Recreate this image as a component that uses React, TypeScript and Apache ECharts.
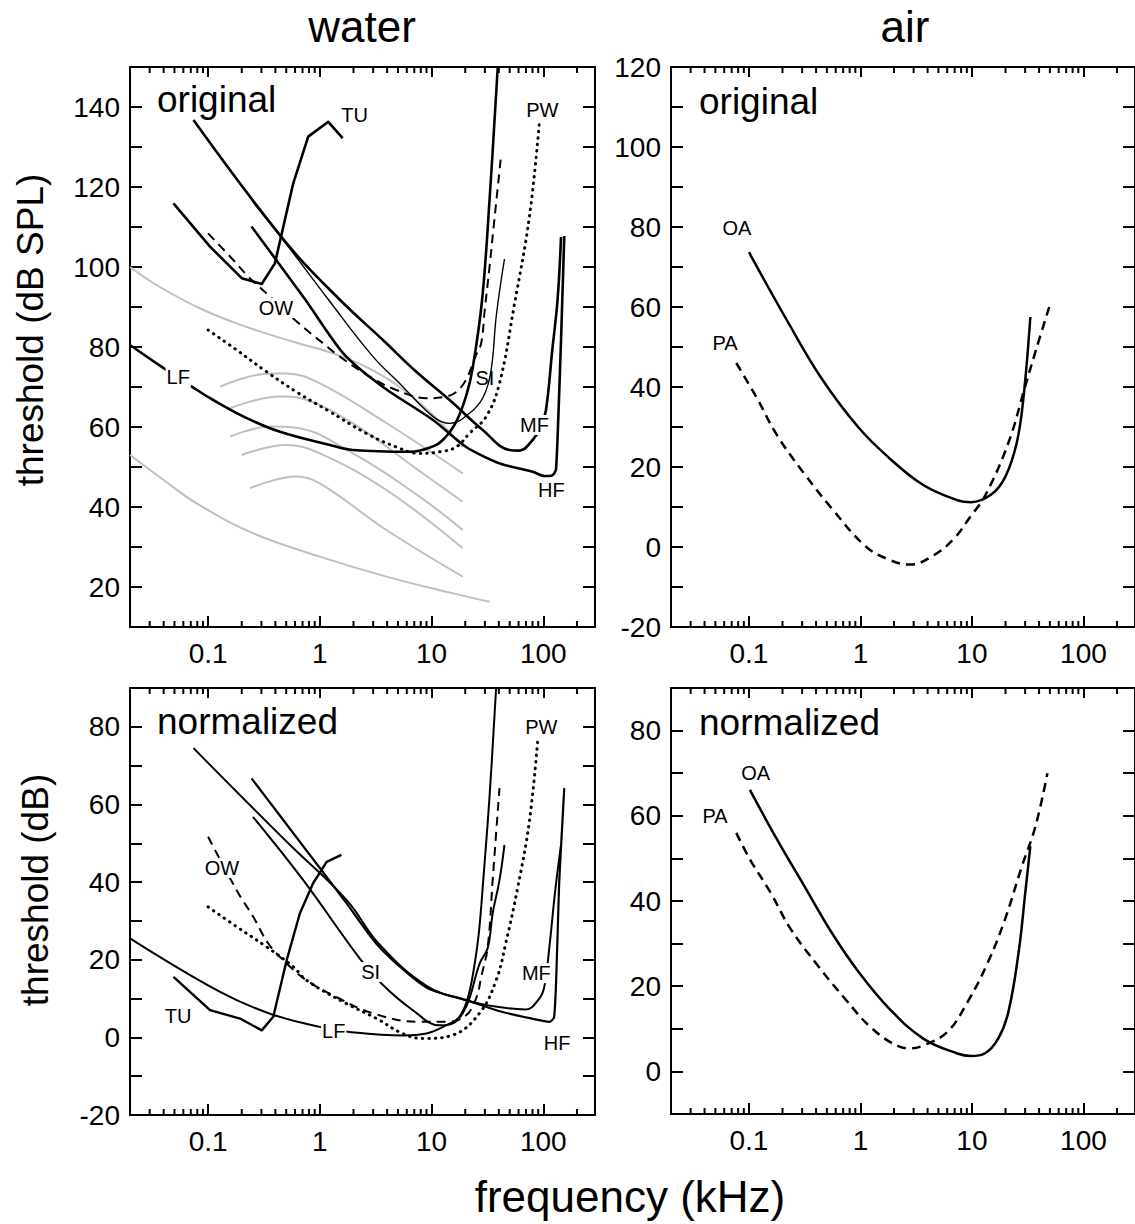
import React, { useEffect, useRef } from 'react';
import * as echarts from 'echarts';

const FONT = '"Liberation Sans", Arial, Helvetica, sans-serif';

// ---------- axis ticks ----------
const majorTicks = [0.1, 1, 10, 100];
const minorTicks = [0.03, 0.04, 0.05, 0.06, 0.07, 0.08, 0.09, 0.2, 0.3, 0.4, 0.5, 0.6, 0.7, 0.8, 0.9,
  2, 3, 4, 5, 6, 7, 8, 9, 20, 30, 40, 50, 60, 70, 80, 90, 200];

// ---------- water, original (dB SPL) : [kHz, dB] ----------
const tuOrig = [[0.049, 115.9], [0.104, 105.1], [0.2, 97.2], [0.302, 95.75], [0.396, 100.9], [0.578, 120.9], [0.787, 132.6], [1.19, 136.3], [1.6, 132.2]];
const owOrig = [[0.1, 108.4], [0.168, 101.75], [0.229, 97.6], [0.334, 93.4], [0.598, 86.75], [1.07, 80.9], [1.51, 77.6], [2.79, 72.6], [4.84, 69.25], [8.98, 67.2], [13.5, 67.6], [19, 70.5], [25, 78], [27.8, 81], [29.9, 89.25], [33, 100], [35.6, 109], [41.9, 128]];
const pwOrig = [[0.1, 84.25], [0.18, 79.25], [0.334, 73.8], [0.64, 68.5], [1.2, 64], [2.61, 58.4], [4.84, 55], [7.8, 53.4], [11.8, 53.8], [16.6, 55], [21.8, 58.4], [30.8, 62.6], [40.5, 70.9], [55, 90.5], [75, 112.5], [92, 135.8]];
const siOrig = [[0.252, 116.25], [0.505, 105.6], [1.2, 91.75], [2.99, 77.6], [5.18, 70.9], [10.3, 62.6], [14.5, 60.9], [22, 63.5], [29, 67.5], [34, 74], [38, 88], [44.9, 102]];
const mfOrig = [[0.074, 136.75], [0.505, 105.9], [1.52, 91.75], [3.67, 81.75], [7.3, 73.8], [14.5, 66.75], [28.7, 59.25], [49.7, 54.25], [61, 54.1], [80.2, 56.75], [95, 60], [105.6, 64.25], [120, 79], [134, 91.75], [144, 107.5]];
const hfOrig = [[0.245, 110.1], [0.745, 91.75], [1.62, 78.4], [3.67, 70], [10.3, 61.75], [20.4, 55], [40.5, 50.9], [80.2, 48.8], [102, 47.75], [118, 47.8], [125, 48.4], [130, 49.5], [136, 62], [144, 81.75], [149, 95], [154, 107.75]];
const lfOrig = [[0.02, 80.5], [0.04, 74.7], [0.0715, 70.1], [0.111, 66.75], [0.222, 62.2], [0.44, 58.8], [1.23, 55.5], [1.97, 54.25], [6.37, 53.8], [10.2, 55.1], [12.6, 56.75], [16.6, 61.3], [20.5, 68], [23.4, 75], [28.3, 91.75], [33, 116.75], [39.1, 150]];
// grey reference audiograms
const grey1 = [[0.02, 100], [0.037, 95], [0.091, 89.25], [0.222, 85], [0.578, 81.3], [1.31, 78.4], [2.61, 75], [5.18, 70], [10.3, 63], [19, 55]];
const grey2 = [[0.128, 70.1], [0.36, 73.4], [0.5, 73.4], [1, 70.9], [3.94, 61], [19, 48.4]];
const grey3 = [[0.157, 64.7], [0.44, 67.6], [0.76, 66.75], [1.98, 60.9], [7.8, 49], [19, 41.3]];
const grey4 = [[0.157, 57.6], [0.36, 60.1], [0.58, 59.9], [1.98, 53.4], [7.8, 42.6], [19, 34.25]];
const grey5 = [[0.2, 53], [0.5, 55.5], [1, 53.4], [3.94, 44.25], [19, 29.7]];
const grey6 = [[0.237, 44.7], [0.62, 47.6], [1, 45.9], [3.94, 34.25], [19, 22.6]];
const grey7 = [[0.02, 53], [0.04, 46.75], [0.079, 40.9], [0.254, 33.4], [1, 27.6], [3.94, 22.6], [15.5, 18.4], [33, 16.3]];

// ---------- air, original ----------
const oaOrig = [[0.1, 73.7], [0.221, 56.5], [0.447, 42.2], [0.966, 29.8], [1.82, 22.2], [3.66, 15.5], [7.4, 11.7], [9.8, 11.2], [14.9, 13.1], [19.8, 17.4], [25.2, 26], [29, 37.4], [33.4, 57.5]];
const paOrig = [[0.077, 46], [0.117, 37.4], [0.179, 27.9], [0.314, 18.3], [0.551, 9.7], [1.11, 0.2], [1.82, -3.2], [2.77, -4.4], [4.52, -2.1], [6.9, 2.1], [9.8, 7.8], [13, 12.6], [21.2, 26], [30.1, 40.3], [37.2, 48.9], [51, 61.3]];

// ---------- water, normalized (dB) ----------
const tuNorm = [[0.049, 15.6], [0.104, 7], [0.193, 4.85], [0.302, 1.8], [0.383, 5.3], [0.505, 19.9], [0.662, 31.9], [0.87, 39.7], [1.15, 45.2], [1.56, 47]];
const owNorm = [[0.1, 51.7], [0.18, 37.9], [0.254, 31], [0.345, 24.2], [0.47, 19.9], [0.76, 14.7], [1.4, 10.4], [2.98, 6.2], [7.8, 4], [13.5, 4], [20, 5.5], [25, 10], [28, 16], [31.8, 23.3], [35.2, 40.5], [40.5, 64.2]];
const pwNorm = [[0.1, 33.6], [0.18, 28.5], [0.334, 23.3], [0.578, 18.2], [0.76, 14.7], [1.73, 8.7], [3.2, 4.9], [5.5, 1], [8.4, -0.3], [15.5, 0.6], [26.8, 6.2], [37.8, 14.7], [46.5, 24.7], [58.9, 38.5], [75, 55.6], [89, 76.3]];
const siNorm = [[0.252, 56.8], [0.71, 40.5], [2.28, 20.3], [3.67, 13.5], [6.8, 7], [11.8, 3.1], [15.5, 3.6], [20.4, 7.9], [26.9, 19], [31.8, 23], [35.2, 31.9], [40.5, 40.5], [44.9, 49.6]];
const mfNorm = [[0.074, 74.5], [0.5, 50.5], [1.73, 35.4], [3.4, 24], [9, 13.3], [20.4, 9.6], [40, 7.8], [69.8, 7.2], [92, 10], [102, 13], [113, 23], [128, 38], [144, 49.6]];
const hfNorm = [[0.245, 66.7], [0.6, 52], [1.73, 34.6], [3.4, 23.3], [9, 12.8], [20.4, 9.6], [40, 6.8], [80, 4.8], [113, 4], [125, 5.3], [133, 23], [139, 40.5], [154, 64.2]];
const lfNorm = [[0.02, 25.5], [0.128, 11.7], [0.358, 6.1], [1.0, 2.7], [1.85, 1.4], [5.55, 0.5], [9, 1], [13.5, 3.1], [17.7, 5.3], [21, 10], [24, 18], [26.5, 27], [29, 40.5], [33, 62], [37.8, 90]];

// ---------- air, normalized ----------
const oaNorm = [[0.102, 66.1], [0.179, 54.4], [0.314, 43.5], [0.551, 32.6], [0.966, 23.3], [1.82, 14.7], [3.66, 7.7], [7.4, 4.2], [9.8, 3.6], [13, 4.2], [17.2, 7.7], [21.2, 13.9], [26.2, 27.9], [30.1, 42], [33.4, 52.9]];
const paNorm = [[0.077, 56], [0.102, 49.8], [0.156, 42], [0.237, 33.4], [0.416, 24.8], [0.73, 17], [1.28, 10], [2.24, 5.8], [2.8, 5.4], [3.66, 6.1], [5.98, 9.2], [9.1, 16.2], [13.9, 25.6], [19.8, 35.7], [28.1, 48.2], [37.2, 57.6], [47.5, 70]];

// ---------- curve labels (name, kHz, dB) per panel ----------
const labelsWaterOrig = [['TU', 2.05, 138], ['OW', 0.405, 89.75], ['PW', 98, 139.25], ['SI', 30, 72.25], ['MF', 83.2, 60.5], ['HF', 118, 44.25], ['LF', 0.054, 72.5]];
const labelsAirOrig = [['OA', 0.078, 79.75], ['PA', 0.061, 51]];
const labelsWaterNorm = [['PW', 96, 79.95], ['OW', 0.133, 43.6], ['SI', 2.85, 16.8], ['MF', 86.6, 16.55], ['TU', 0.054, 5.5], ['LF', 1.33, 1.6], ['HF', 133, -1.5]];
const labelsAirNorm = [['OA', 0.115, 70], ['PA', 0.0497, 60]];

// ---------- panel frames ----------
const X_MIN = 0.02;
const X_MAX = 290;
const yRanges = [[10, 150], [-20, 120], [-20, 90], [-10, 90]];
const grids = [
  { left: 130, top: 67, width: 465, height: 560 },
  { left: 671, top: 67, width: 466, height: 560 },
  { left: 130, top: 688, width: 465, height: 427 },
  { left: 671, top: 688, width: 466, height: 426 },
];

const BLACK = '#000';
const GREY = '#c0c0c0';

function fmtX(v: number) {
  const r = Number(Number(v).toPrecision(3));
  return majorTicks.some((m) => Math.abs(m - r) / m < 1e-6) ? String(r) : '';
}

function buildOption() {
  const xAxis: any[] = [];
  const yAxis: any[] = [];
  grids.forEach((_, i) => {
    const axLine = { show: true, onZero: false, lineStyle: { color: BLACK, width: 2 } };
    xAxis.push({
      type: 'log', logBase: 10, gridIndex: i, min: X_MIN, max: X_MAX, position: 'bottom',
      axisLine: axLine,
      axisTick: { show: true, inside: true, length: 11, lineStyle: { color: BLACK, width: 2 } },
      axisLabel: { show: true, fontSize: 28, color: BLACK, fontFamily: FONT, margin: 12, formatter: fmtX, showMinLabel: false, showMaxLabel: false },
      splitLine: { show: false },
    });
    xAxis.push({
      type: 'log', logBase: 10, gridIndex: i, min: X_MIN, max: X_MAX, position: 'top',
      axisLine: axLine,
      axisTick: { show: true, inside: true, length: 10, lineStyle: { color: BLACK, width: 2 } },
      axisLabel: { show: false },
      splitLine: { show: false },
    });
    const [ymin, ymax] = yRanges[i];
    yAxis.push({
      type: 'value', gridIndex: i, min: ymin, max: ymax, interval: 10, position: 'left',
      axisLine: axLine,
      axisTick: { show: true, inside: true, length: 12, lineStyle: { color: BLACK, width: 2 } },
      axisLabel: { show: true, fontSize: 28, color: BLACK, fontFamily: FONT, margin: 10, formatter: (v: number) => (v % 20 === 0 ? String(v) : '') },
      splitLine: { show: false },
    });
    yAxis.push({
      type: 'value', gridIndex: i, min: ymin, max: ymax, interval: 10, position: 'right',
      axisLine: axLine,
      axisTick: { show: true, inside: true, length: 12, lineStyle: { color: BLACK, width: 2 } },
      axisLabel: { show: false },
      splitLine: { show: false },
    });
  });

  const series: any[] = [];
  const line = (name: string, data: number[][], gi: number, opt: any = {}) => {
    series.push({
      type: 'line', name, data, xAxisIndex: 2 * gi, yAxisIndex: 2 * gi,
      symbol: 'none', silent: true, clip: true,
      smooth: opt.smooth ?? 0.4,
      z: opt.z ?? 3,
      lineStyle: { color: opt.color ?? BLACK, width: opt.width ?? 2.5, type: opt.type ?? 'solid', cap: opt.cap ?? 'butt', join: 'round' },
    });
  };
  const DASH = [9, 6];
  const DOT = [0.5, 6];

  // water original
  [grey1, grey2, grey3, grey4, grey5, grey6, grey7].forEach((g, k) => line('grey' + k, g, 0, { color: GREY, width: 2, z: 2 }));
  line('TU', tuOrig, 0, { smooth: 0, width: 2.6 });
  line('OW', owOrig, 0, { type: DASH, width: 2 });
  line('PW', pwOrig, 0, { type: DOT, width: 3, cap: 'round' });
  line('SI', siOrig, 0, { width: 1.4 });
  line('MF', mfOrig, 0, { width: 2.6 });
  line('HF', hfOrig, 0, { width: 2.6, smooth: 0.25 });
  line('LF', lfOrig, 0, { width: 2.6 });
  // air original
  line('OA', oaOrig, 1, { width: 2.5 });
  line('PA', paOrig, 1, { type: DASH, width: 2.5 });
  // water normalized
  line('TU', tuNorm, 2, { smooth: 0, width: 2.4 });
  line('OW', owNorm, 2, { type: DASH, width: 2 });
  line('PW', pwNorm, 2, { type: DOT, width: 3, cap: 'round' });
  line('SI', siNorm, 2, { width: 2 });
  line('MF', mfNorm, 2, { width: 2 });
  line('HF', hfNorm, 2, { width: 2.2, smooth: 0.25 });
  line('LF', lfNorm, 2, { width: 2 });
  // air normalized
  line('OA', oaNorm, 3, { width: 2.5 });
  line('PA', paNorm, 3, { type: DASH, width: 2.5 });

  // minor ticks for the log axes (top and bottom of every panel)
  grids.forEach((_, i) => {
    series.push({
      type: 'custom', xAxisIndex: 2 * i, yAxisIndex: 2 * i, silent: true, z: 6,
      data: minorTicks.map((f) => [f, yRanges[i][0]]),
      renderItem: (params: any, api: any) => {
        const cs = params.coordSys;
        const x = api.coord([api.value(0), api.value(1)])[0];
        const top = cs.y;
        const bot = cs.y + cs.height;
        return {
          type: 'group',
          children: [
            { type: 'line', shape: { x1: x, y1: bot, x2: x, y2: bot - 6 }, style: { stroke: BLACK, lineWidth: 2 } },
            { type: 'line', shape: { x1: x, y1: top, x2: x, y2: top + 6 }, style: { stroke: BLACK, lineWidth: 2 } },
          ],
        };
      },
    });
  });

  // curve name labels
  const labelSeries = (items: any[], gi: number, noBg: string[] = []) => {
    series.push({
      type: 'scatter', xAxisIndex: 2 * gi, yAxisIndex: 2 * gi, silent: true, z: 10,
      symbolSize: 1, itemStyle: { color: '#fff', opacity: 0 },
      data: items.map(([n, f, v]) => ({
        name: n, value: [f, v],
        label: noBg.includes(n) ? { backgroundColor: 'transparent' } : undefined,
      })),
      label: {
        show: true, position: 'inside', formatter: (p: any) => p.name, opacity: 1,
        fontSize: 20, fontFamily: FONT, color: '#000', backgroundColor: '#fff', padding: [0, 1],
      },
    });
  };
  labelSeries(labelsWaterOrig, 0, ['SI', 'TU', 'PW']);
  labelSeries(labelsAirOrig, 1);
  labelSeries(labelsWaterNorm, 2, ['PW', 'TU']);
  labelSeries(labelsAirNorm, 3);

  const txt = (text: string, x: number, y: number, size: number, extra: any = {}) => ({
    type: 'text', x, y, silent: true, z: 20, ...extra,
    style: { text, fontSize: size, fontFamily: FONT, fill: BLACK, align: extra.align ?? 'center', verticalAlign: 'middle' },
  });

  const graphic = [
    txt('water', 362, 26, 44),
    txt('air', 905, 26, 44),
    txt('frequency (kHz)', 630, 1196, 44),
    txt('threshold (dB SPL)', 30, 330, 37, { rotation: Math.PI / 2 }),
    txt('threshold (dB)', 35, 890, 37, { rotation: Math.PI / 2 }),
    txt('original', 157, 99, 37, { align: 'left' }),
    txt('original', 699, 101, 37, { align: 'left' }),
    txt('normalized', 157, 721, 37, { align: 'left' }),
    txt('normalized', 699, 722, 37, { align: 'left' }),
  ];

  return {
    animation: false,
    backgroundColor: '#fff',
    textStyle: { fontFamily: FONT },
    grid: grids.map((g) => ({ ...g, containLabel: false })),
    xAxis,
    yAxis,
    series,
    graphic,
  };
}

export default function App() {
  const ref = useRef<HTMLDivElement>(null);
  useEffect(() => {
    if (!ref.current) return;
    const chart = echarts.init(ref.current, undefined, { renderer: 'svg' });
    chart.setOption(buildOption() as any);
    return () => chart.dispose();
  }, []);
  return (
    <div
      ref={ref}
      style={{ position: 'absolute', left: 0, top: 0, width: 1135, height: 1224, background: '#fff' }}
    />
  );
}
